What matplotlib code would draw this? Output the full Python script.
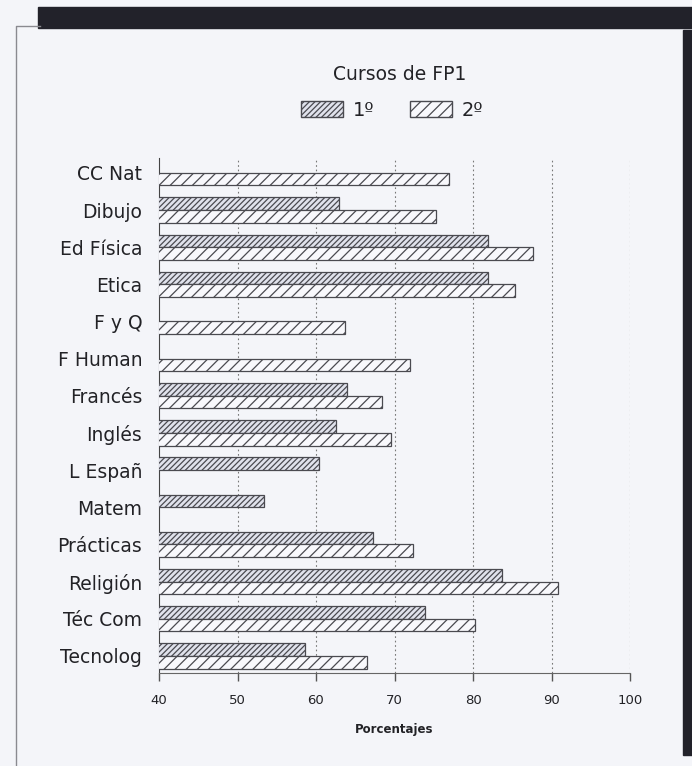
import numpy as np
import matplotlib
matplotlib.use("Agg")
import matplotlib.pyplot as plt
from matplotlib.patches import Rectangle, Patch
from matplotlib.lines import Line2D

# Data (nan = no bar)
asignaturas = ["CC Nat", "Dibujo", "Ed Física", "Etica", "F y Q", "F Human",
               "Francés", "Inglés", "L Españ", "Matem", "Prácticas",
               "Religión", "Téc Com", "Tecnolog"]
curso_1 = [np.nan, 62.9, 81.9, 81.9, np.nan, np.nan,
           63.9, 62.5, 60.4, 53.4, 67.2, 83.7, 73.9, 58.6]
curso_2 = [76.9, 75.3, 87.7, 85.4, 63.7, 72.0,
           68.4, 69.6, np.nan, np.nan, 72.3, 90.8, 80.2, 66.5]
x_ticks = [40, 50, 60, 70, 80, 90, 100]

BG = '#f4f5f9'
EDGE = '#4a4a50'
TXT = '#222226'

plt.rcParams['font.family'] = ['DejaVu Sans']
plt.rcParams['hatch.color'] = EDGE
plt.rcParams['hatch.linewidth'] = 0.9

fig = plt.figure(figsize=(6.92, 7.66), dpi=100, facecolor=BG)

# scan decorations: dark band on top and right, thin panel border
fig.patches.append(Rectangle((38 / 692, 1 - 28 / 766), 1, 21 / 766,
                             transform=fig.transFigure, color='#22222a', zorder=0))
fig.patches.append(Rectangle((683 / 692, 1 - 755 / 766), 9 / 692, 725 / 766,
                             transform=fig.transFigure, color='#22222a', zorder=0))
fig.lines.append(Line2D([16 / 692, 16 / 692, 40 / 692], [0, 1 - 26 / 766, 1 - 26 / 766],
                        transform=fig.transFigure, color='#8a8a90', lw=1))

ax = fig.add_axes([159 / 692, 1 - 673 / 766, 471 / 692, 515 / 766])
ax.set_facecolor(BG)

y = np.arange(len(asignaturas))
h = 0.34
ax.barh(y - h / 2, curso_1, height=h, left=0, color='#e0e2ec', edgecolor=EDGE,
        hatch='//////', linewidth=0.9, zorder=3)
ax.barh(y + h / 2, curso_2, height=h, left=0, color='#f8f8fc', edgecolor=EDGE,
        hatch='///', linewidth=0.9, zorder=3)

ax.set_xlim(40, 100)
ax.set_ylim(len(asignaturas) - 0.54, -0.4)

ax.set_yticks(y)
ax.set_yticklabels(asignaturas, fontsize=13.5, color=TXT)
ax.tick_params(axis='y', length=0, pad=12)

ax.set_xticks(x_ticks)
ax.set_xticklabels([str(t) for t in x_ticks], fontsize=9.5, color=TXT)
ax.tick_params(axis='x', length=6, width=1, color='#555', direction='out', pad=9)

for v in x_ticks[1:]:
    ax.axvline(v, color='#777', lw=0.8, linestyle=(0, (1.5, 2.5)), zorder=1)

for s in ['top', 'right']:
    ax.spines[s].set_visible(False)
ax.spines['left'].set_color('#444')
ax.spines['bottom'].set_color('#666')

ax.set_xlabel('Porcentajes', fontsize=8.5, fontweight='bold', color=TXT, labelpad=12)

fig.text(400 / 692, 1 - 75 / 766, 'Cursos de FP1', ha='center', va='center',
         fontsize=13.5, color=TXT)

handles = [Patch(facecolor='#e0e2ec', edgecolor=EDGE, hatch='//////', label='1º'),
           Patch(facecolor='#f8f8fc', edgecolor=EDGE, hatch='///', label='2º')]
fig.legend(handles=handles, loc='center', bbox_to_anchor=(392 / 692, 1 - 110 / 766),
           ncol=2, frameon=False, fontsize=14, handlelength=2.2, handleheight=0.9,
           handletextpad=0.5, columnspacing=1.8, labelcolor=TXT)

fig.savefig('out.png', dpi=100, facecolor=BG)
